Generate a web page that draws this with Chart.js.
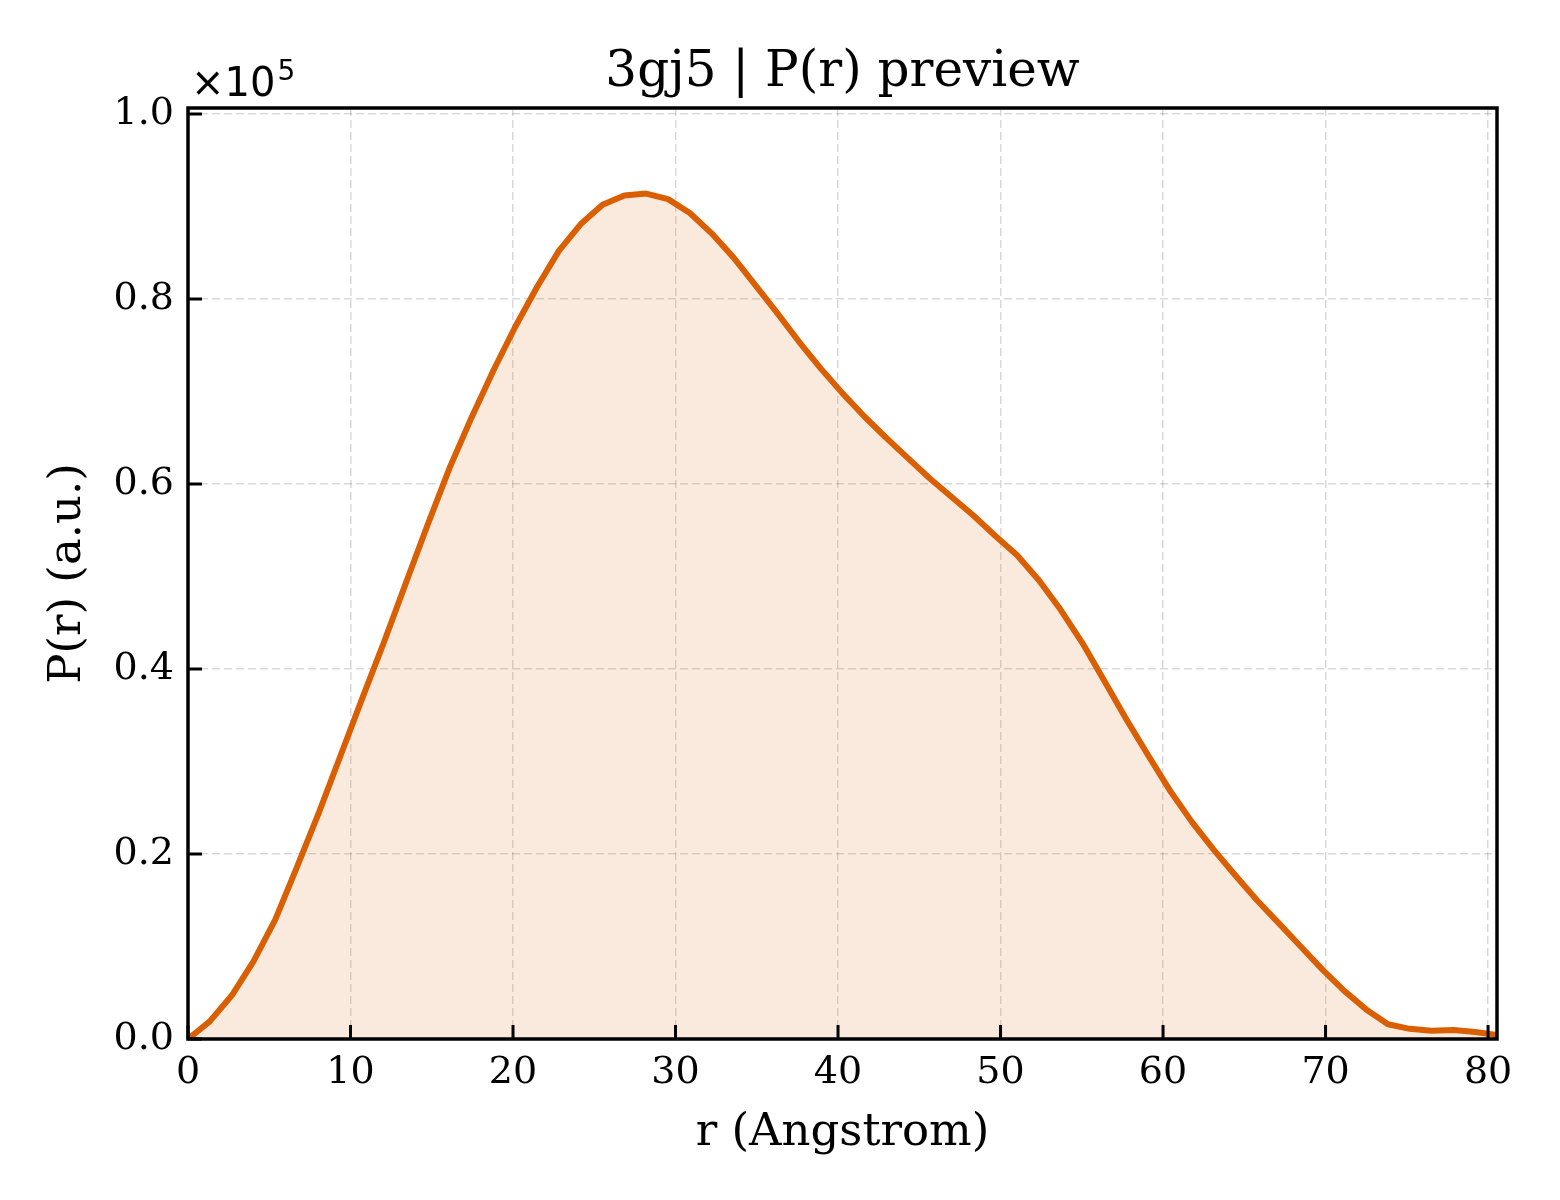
<!DOCTYPE html>
<html>
<head>
<meta charset="utf-8">
<script src="https://cdn.jsdelivr.net/npm/chart.js@4.4.1/dist/chart.umd.min.js"></script>
<style>
  html, body { margin: 0; padding: 0; background: #ffffff; }
  #wrap { width: 1560px; height: 1200px; }
</style>
</head>
<body>
<div id="wrap"><canvas id="pr"></canvas></div>
<script>
// r grid (Angstrom), as sampled in the P(r) file
const rValues = [
  0.00, 1.34, 2.69, 4.03, 5.37, 6.71, 8.06, 9.40, 10.74, 12.08,
  13.43, 14.77, 16.11, 17.45, 18.80, 20.14, 21.48, 22.82, 24.17, 25.51,
  26.85, 28.19, 29.54, 30.88, 32.22, 33.56, 34.91, 36.25, 37.59, 38.93,
  40.28, 41.62, 42.96, 44.30, 45.65, 46.99, 48.33, 49.67, 51.02, 52.36,
  53.70, 55.04, 56.39, 57.73, 59.07, 60.41, 61.76, 63.10, 64.44, 65.78,
  67.13, 68.47, 69.81, 71.15, 72.50, 73.84, 75.18, 76.52, 77.87, 79.21,
  80.55,
];

// P(r) in arbitrary units
const prValues = [
  0, 1900, 4700, 8400, 12900, 18600, 24500, 30700, 36900, 43000,
  49400, 55700, 61800, 67200, 72300, 77000, 81300, 85200, 88100, 90200,
  91200, 91400, 90800, 89300, 87100, 84500, 81500, 78500, 75400, 72500,
  69800, 67300, 65000, 62800, 60600, 58600, 56600, 54400, 52300, 49600,
  46400, 42800, 38700, 34600, 30700, 26900, 23500, 20500, 17700, 15000,
  12500, 10000, 7500, 5200, 3200, 1600, 1100, 900, 970, 760,
  430,
];

const xTicks = [0, 10, 20, 30, 40, 50, 60, 70, 80];
const yTicks = [0, 20000, 40000, 60000, 80000, 100000];

const titleText = '3gj5 | P(r) preview';
const xLabel = 'r (Angstrom)';
const yLabel = 'P(r) (a.u.)';

const lineColor = '#d95f02';
const fillColor = 'rgba(217, 95, 2, 0.13)';
const gridColor = 'rgba(0, 0, 0, 0.15)';
const serif = '"DejaVu Serif", serif';

const points = rValues.map((r, i) => ({ x: r, y: prValues[i] }));

// frame, inward ticks, title and the x10^5 offset label
const framePlugin = {
  id: 'frame',
  afterDraw(chart) {
    const { ctx, chartArea: a, scales } = chart;
    ctx.save();
    ctx.strokeStyle = '#000';
    ctx.lineWidth = 3;
    ctx.beginPath();
    xTicks.forEach(v => {
      const px = scales.x.getPixelForValue(v);
      ctx.moveTo(px, a.bottom);
      ctx.lineTo(px, a.bottom - 14);
    });
    yTicks.forEach(v => {
      const py = scales.y.getPixelForValue(v);
      ctx.moveTo(a.left, py);
      ctx.lineTo(a.left + 14, py);
    });
    ctx.stroke();

    ctx.lineWidth = 3.5;
    ctx.strokeRect(a.left, a.top, a.right - a.left, a.bottom - a.top);

    ctx.fillStyle = '#000';
    ctx.textAlign = 'center';
    ctx.textBaseline = 'alphabetic';
    ctx.font = '50px ' + serif;
    ctx.fillText(titleText, (a.left + a.right) / 2, 86);

    ctx.textAlign = 'left';
    ctx.font = '40px "DejaVu Sans", sans-serif';
    ctx.fillText('\u00d710', a.left + 3, 96);
    const w = ctx.measureText('\u00d710').width;
    ctx.font = '28px "DejaVu Sans", sans-serif';
    ctx.fillText('5', a.left + 5 + w, 80);
    ctx.restore();
  },
};

new Chart(document.getElementById('pr'), {
  type: 'line',
  data: {
    datasets: [{
      data: points,
      borderColor: lineColor,
      backgroundColor: fillColor,
      borderWidth: 6,
      borderJoinStyle: 'round',
      pointRadius: 0,
      tension: 0,
      fill: 'origin',
    }],
  },
  options: {
    responsive: true,
    maintainAspectRatio: false,
    animation: false,
    devicePixelRatio: 1,
    layout: { padding: { left: 0, right: 63, top: 108, bottom: 0 } },
    plugins: {
      legend: { display: false },
      title: { display: false },
      tooltip: { enabled: false },
    },
    scales: {
      x: {
        type: 'linear',
        min: 0,
        max: 80.55,
        afterFit: s => { s.height = 161; },
        afterBuildTicks: s => { s.ticks = xTicks.map(v => ({ value: v })); },
        ticks: {
          includeBounds: false,
          padding: 11,
          color: '#000',
          font: { family: serif, size: 38 },
          maxRotation: 0,
          callback: v => String(v),
        },
        grid: { color: gridColor, lineWidth: 1.5, drawTicks: false },
        border: { display: false, dash: [8, 4] },
        title: {
          display: true,
          text: xLabel,
          color: '#000',
          font: { family: serif, size: 45 },
          padding: { top: 40, bottom: 40 },
        },
      },
      y: {
        min: 0,
        max: 100650,
        afterFit: s => { s.width = 188; },
        afterBuildTicks: s => { s.ticks = yTicks.map(v => ({ value: v })); },
        ticks: {
          includeBounds: false,
          padding: 14,
          color: '#000',
          font: { family: serif, size: 38 },
          callback: v => (v / 1e5).toFixed(1),
        },
        grid: { color: gridColor, lineWidth: 1.5, drawTicks: false },
        border: { display: false, dash: [8, 4] },
        title: {
          display: true,
          text: yLabel,
          color: '#000',
          font: { family: serif, size: 45 },
          padding: { top: 41, bottom: 41 },
        },
      },
    },
  },
  plugins: [framePlugin],
});
</script>
</body>
</html>
